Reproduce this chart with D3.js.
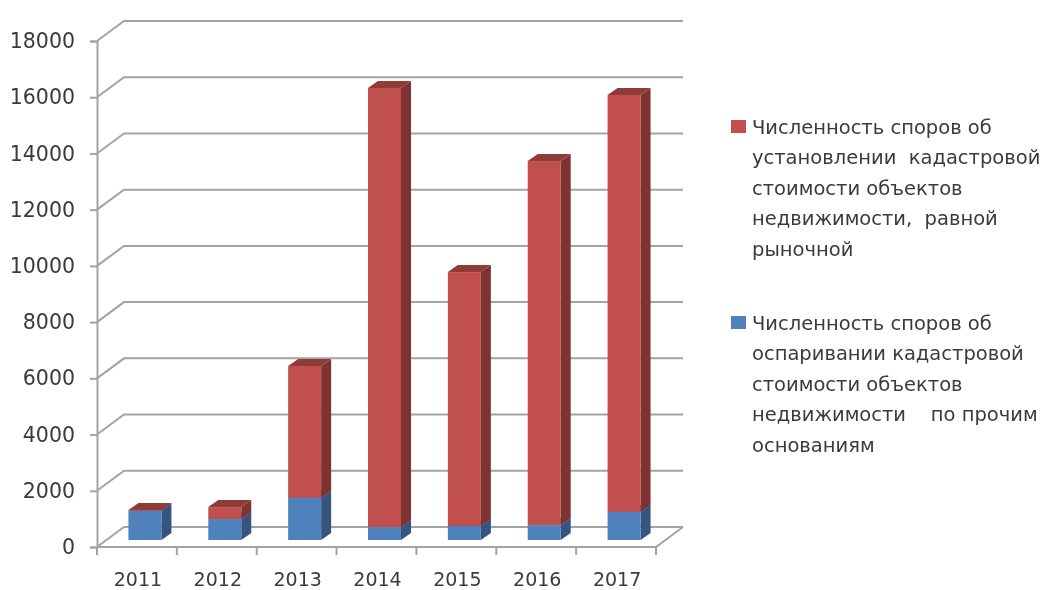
<!DOCTYPE html>
<html>
<head>
<meta charset="utf-8">
<script src="https://cdnjs.cloudflare.com/ajax/libs/d3/7.8.5/d3.min.js"></script>
<style>
  html, body { margin: 0; padding: 0; background: #fff; }
  text { font-family: "DejaVu Sans", sans-serif; fill: #3a3a3a; }
</style>
</head>
<body>
<div id="chart"></div>
<script>
const years = ["2011", "2012", "2013", "2014", "2015", "2016", "2017"];
const otherGrounds = [1040, 750, 1500, 460, 500, 530, 1000];
const marketValue = [30, 420, 4690, 15620, 9030, 12950, 14830];
const yTicks = [0, 2000, 4000, 6000, 8000, 10000, 12000, 14000, 16000, 18000];
const marketLegend = [
  "Численность споров об",
  "установлении  кадастровой",
  "стоимости объектов",
  "недвижимости,  равной",
  "рыночной"
];
const otherLegend = [
  "Численность споров об",
  "оспаривании кадастровой",
  "стоимости объектов",
  "недвижимости    по прочим",
  "основаниям"
];

const width = 1043, height = 590;
const plot = { left: 97, right: 656, bottom: 547, top: 41 };
const depth = { x: 27, y: -20 }; // wall depth
const barShift = { x: 8, y: -7 }; // bars stand in the middle of the floor
const barDepth = { x: 10, y: -7 };
const gridColor = "#a3a3a3";

const rows = years.map((y, i) => ({ year: y, other: otherGrounds[i], market: marketValue[i] }));

const x = d3.scaleBand().domain(years).range([plot.left, plot.right]).paddingInner(0.587).paddingOuter(0.2935);
const y = d3.scaleLinear().domain([0, 18000]).range([plot.bottom, plot.top]);

const svg = d3.select("#chart").append("svg")
  .attr("width", width)
  .attr("height", height)
  .style("display", "block");

const defs = svg.append("defs");
defs.append("filter").attr("id", "soft")
  .append("feGaussianBlur").attr("stdDeviation", 0.45);

const g = svg.append("g").attr("filter", "url(#soft)");

// walls
const grid = g.append("g").attr("fill", "none").attr("stroke", gridColor).attr("stroke-width", 2);
grid.selectAll("path").data(yTicks).enter().append("path")
  .attr("d", d => `M${plot.left},${y(d)}L${plot.left + depth.x},${y(d) + depth.y}L${plot.right + depth.x},${y(d) + depth.y}`);
grid.append("path")
  .attr("d", `M${plot.left},${plot.bottom}L${plot.right},${plot.bottom}L${plot.right + depth.x},${plot.bottom + depth.y}`);

// y axis
const yAxis = g.append("g")
  .attr("transform", `translate(${plot.left},0)`)
  .call(d3.axisLeft(y).tickValues(yTicks).tickSize(7).tickPadding(15).tickFormat(d3.format("d")));
yAxis.selectAll("line, path").attr("stroke", gridColor).attr("stroke-width", 2);
yAxis.selectAll("text").attr("font-size", 20.5).style("font-family", '"DejaVu Sans"');

// x axis labels, ticks sit between the categories
const xAxis = g.append("g")
  .attr("transform", `translate(1,${plot.bottom})`)
  .call(d3.axisBottom(x).tickSize(0).tickPadding(26));
xAxis.select(".domain").remove();
xAxis.selectAll("text").attr("font-size", 19).style("font-family", '"DejaVu Sans"');
g.append("g").attr("stroke", gridColor).attr("stroke-width", 2)
  .selectAll("line").data(d3.range(years.length + 1)).enter().append("line")
  .attr("x1", d => plot.left + d * x.step()).attr("x2", d => plot.left + d * x.step())
  .attr("y1", plot.bottom).attr("y2", plot.bottom + 8);

// bars
const series = d3.stack().keys(["other", "market"])(rows);
const colors = {
  other: { front: "#4f81bd", side: "#34557f", top: "#3f6797" },
  market: { front: "#c0504d", side: "#7f3230", top: "#8f3a38" }
};

const yearGroups = g.selectAll(".year").data(years).enter().append("g").attr("class", "year");
series.forEach(s => {
  const c = colors[s.key];
  yearGroups.each(function (yr, i) {
    const d = s[i];
    const bar = d3.select(this);
    const x0 = x(yr) + barShift.x, x1 = x0 + x.bandwidth();
    const yLow = y(d[0]) + barShift.y, yHigh = y(d[1]) + barShift.y;
    bar.append("path").attr("fill", c.side)
      .attr("d", `M${x1},${yLow}L${x1 + barDepth.x},${yLow + barDepth.y}L${x1 + barDepth.x},${yHigh + barDepth.y}L${x1},${yHigh}Z`);
    bar.append("path").attr("fill", c.top)
      .attr("d", `M${x0},${yHigh}L${x0 + barDepth.x},${yHigh + barDepth.y}L${x1 + barDepth.x},${yHigh + barDepth.y}L${x1},${yHigh}Z`);
    bar.append("rect").attr("fill", c.front)
      .attr("x", x0).attr("y", yHigh).attr("width", x.bandwidth()).attr("height", yLow - yHigh);
  });
});

// legend
const legends = [
  { lines: marketLegend, color: colors.market.front, top: 127 },
  { lines: otherLegend, color: colors.other.front, top: 323 }
];
const lineHeight = 30.5;
legends.forEach(l => {
  g.append("rect").attr("x", 731).attr("y", l.top - 7).attr("width", 15).attr("height", 13).attr("fill", l.color);
  g.append("g").selectAll("text").data(l.lines).enter().append("text")
    .attr("x", 752)
    .attr("y", (d, i) => l.top + i * lineHeight)
    .attr("dy", "0.35em")
    .attr("font-size", 19.5)
    .style("white-space", "pre")
    .text(d => d);
});
</script>
</body>
</html>
